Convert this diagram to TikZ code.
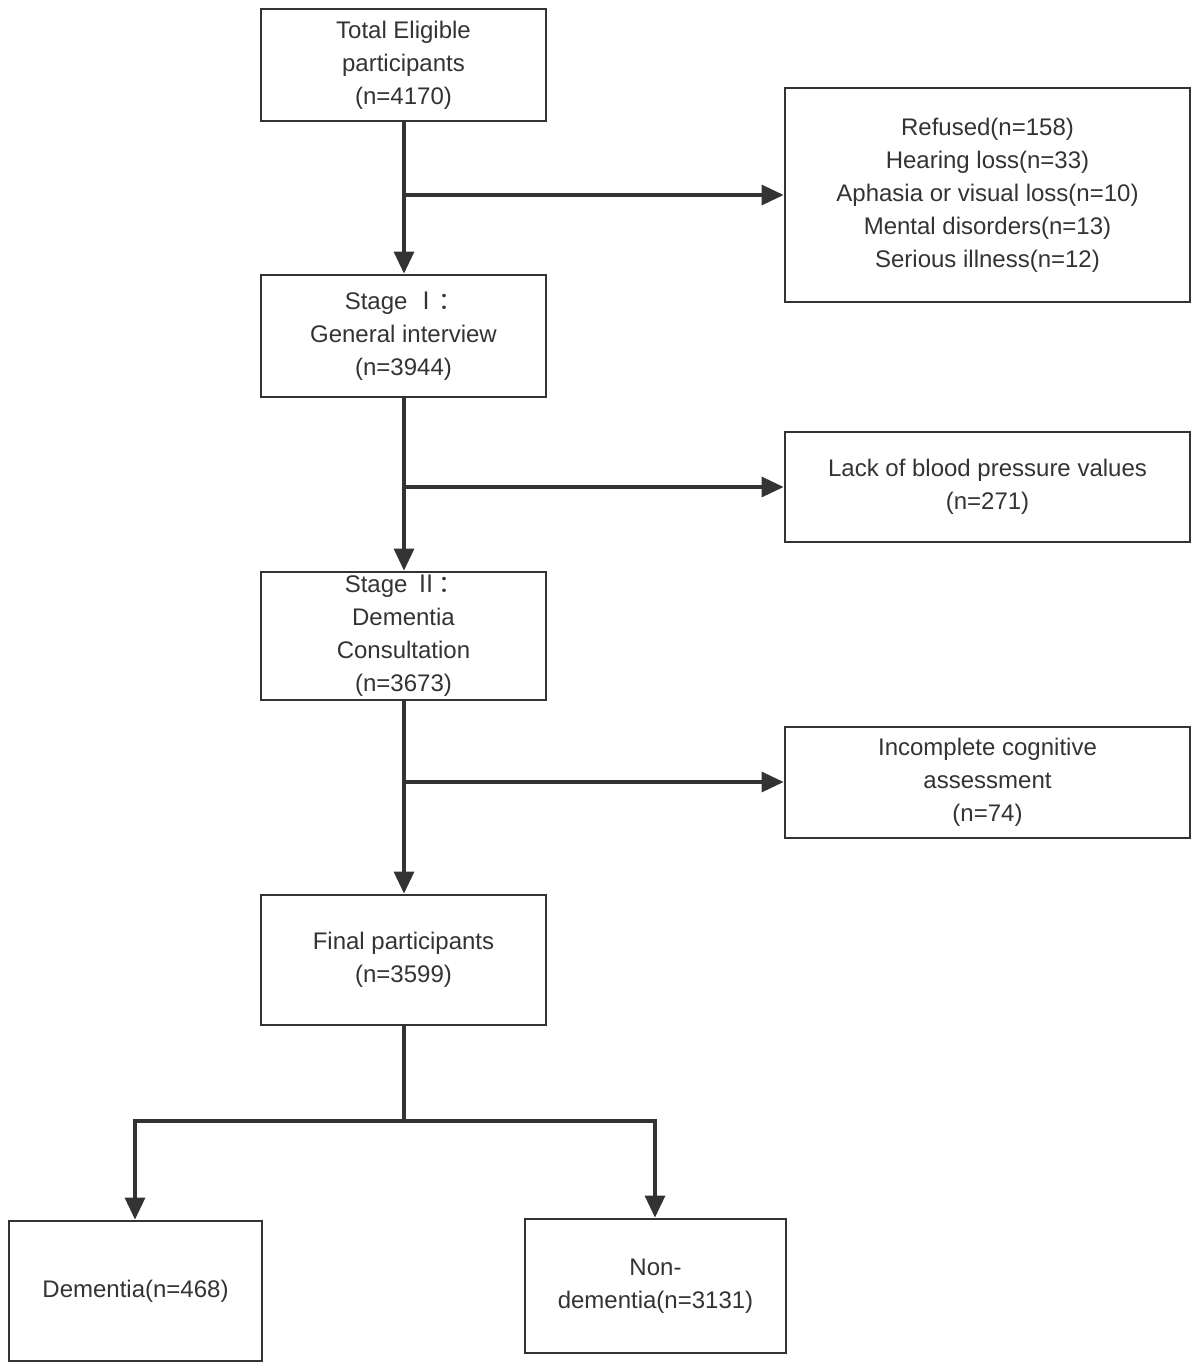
\documentclass[tikz,border=0pt]{standalone}
\usepackage{fontspec}
\setmainfont{Liberation Sans}
\newfontfamily\cjk{Noto Sans CJK SC}
\usetikzlibrary{arrows.meta}
\definecolor{ink}{HTML}{333333}
\begin{document}
\begin{tikzpicture}[x=0.5pt,y=-0.5pt,
  box/.style={draw=ink,line width=1.4pt,inner sep=0pt,align=center,text=ink,font=\fontsize{12}{16.5}\selectfont},
  ln/.style={draw=ink,line width=1.6pt},
  arr/.style={ln,-{Triangle[length=11pt,width=10pt]}}]
\useasboundingbox (0,0) rectangle (1200,1371);
\newcommand\bx[6]{\node[box,minimum width=#4*0.5pt-#2*0.5pt,minimum height=#5*0.5pt-#3*0.5pt] (#1) at ({(#2+#4)/2},{(#3+#5)/2}) {#6};}
\bx{t}{261}{9}{546}{121}{Total Eligible\\participants\\(n=4170)}
\bx{e1}{785}{88}{1190}{302}{Refused(n=158)\\Hearing loss(n=33)\\Aphasia or visual loss(n=10)\\Mental disorders(n=13)\\Serious illness(n=12)}
\bx{s1}{261}{275}{546}{397}{Stage {\cjk Ⅰ：}\\General interview\\(n=3944)}
\bx{e2}{785}{432}{1190}{542}{Lack of blood pressure values\\(n=271)}
\bx{s2}{261}{572}{546}{700}{Stage {\cjk Ⅱ：}\\Dementia\\Consultation\\(n=3673)}
\bx{e3}{785}{727}{1190}{838}{Incomplete cognitive\\assessment\\(n=74)}
\bx{f}{261}{895}{546}{1025}{Final participants\\(n=3599)}
\bx{d}{9}{1221}{262}{1361}{Dementia(n=468)}
\bx{nd}{525}{1219}{786}{1353}{Non-\\dementia(n=3131)}
\coordinate (b1) at (404,195);
\coordinate (b2) at (404,487);
\coordinate (b3) at (404,782);
\coordinate (b4) at (404,1121);
\draw[arr] (t.south -| b1) -- (s1.north -| b1);
\draw[arr] (b1) -- (e1.west |- b1);
\draw[arr] (s1.south -| b2) -- (s2.north -| b2);
\draw[arr] (b2) -- (e2.west |- b2);
\draw[arr] (s2.south -| b3) -- (f.north -| b3);
\draw[arr] (b3) -- (e3.west |- b3);
\draw[ln] (f.south -| b4) -- (b4);
\draw[arr] (b4) -| (d.north -| 135,0);
\draw[arr] (b4) -| (nd.north -| 655,0);
\end{tikzpicture}
\end{document}
